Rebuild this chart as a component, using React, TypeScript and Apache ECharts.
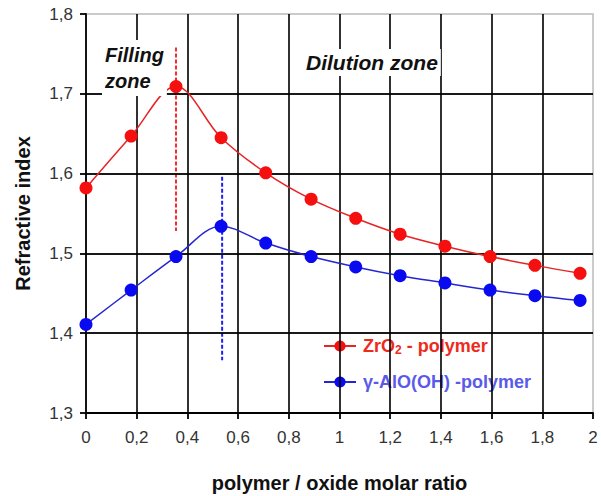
import React, { useEffect, useRef } from "react";
import * as echarts from "echarts";

const xValues = [0, 0.178, 0.355, 0.533, 0.709, 0.888, 1.064, 1.239, 1.416, 1.594, 1.771, 1.949];
const zrValues = [1.582, 1.647, 1.709, 1.645, 1.601, 1.568, 1.544, 1.524, 1.509, 1.496, 1.485, 1.475];
const alValues = [1.411, 1.454, 1.496, 1.534, 1.513, 1.496, 1.483, 1.472, 1.463, 1.454, 1.447, 1.441];
const zrPeakLine = [[0.355, 1.758], [0.355, 1.528]];
const alPeakLine = [[0.537, 1.596], [0.537, 1.366]];
const seriesNames = ["ZrO2 - polymer", "γ-AlO(OH) -polymer"];
const xGridTicks = [0.2, 0.4, 0.6, 0.8, 1.0, 1.2, 1.4, 1.6, 1.8];
const yGridTicks = [1.4, 1.5, 1.6, 1.7];

const FONT = "Liberation Sans, Arial, sans-serif";

export default function App() {
  const ref = useRef<HTMLDivElement>(null);
  useEffect(() => {
    if (!ref.current) return;
    const chart = echarts.init(ref.current, undefined, { renderer: "svg" });
    const fmt = (v: number) => String(Math.round(v * 10) / 10).replace(".", ",");
    chart.setOption({
      animation: false,
      backgroundColor: "#ffffff",
      textStyle: { fontFamily: FONT },
      grid: {
        left: 86,
        right: 8,
        top: 14,
        bottom: 83,
        containLabel: false,
        outerBoundsMode: "none",
        show: true,
        borderColor: "#bbbbbb",
        borderWidth: 1.5,
        backgroundColor: "transparent",
      },
      xAxis: {
        type: "value",
        min: 0,
        max: 2,
        interval: 0.2,
        name: "polymer / oxide molar ratio",
        nameLocation: "middle",
        nameGap: 60,
        nameTextStyle: { fontSize: 20, fontWeight: "bold", color: "#111", fontFamily: FONT },
        axisLine: { show: true, onZero: false, lineStyle: { color: "#000", width: 1.8 } },
        axisTick: { show: true, length: 6, lineStyle: { color: "#000", width: 1.8 } },
        axisLabel: { formatter: fmt, fontSize: 17, color: "#333", margin: 16, fontFamily: FONT },
        splitLine: { show: false },
      },
      yAxis: {
        type: "value",
        min: 1.3,
        max: 1.8,
        interval: 0.1,
        name: "Refractive index",
        nameLocation: "middle",
        nameGap: 53,
        nameTextStyle: { fontSize: 20, fontWeight: "bold", color: "#111", fontFamily: FONT },
        axisLine: { show: true, lineStyle: { color: "#000", width: 1.8 } },
        axisTick: { show: true, length: 6, lineStyle: { color: "#000", width: 1.8 } },
        axisLabel: { formatter: fmt, fontSize: 17, color: "#333", margin: 13, fontFamily: FONT },
        splitLine: { show: false },
      },
      legend: {
        orient: "vertical",
        left: 318,
        top: 330,
        itemWidth: 32,
        itemHeight: 14,
        itemGap: 15,
        data: [
          { name: seriesNames[0], textStyle: { color: "#ee2a1c" } },
          { name: seriesNames[1], textStyle: { color: "#5a5ae8" } },
        ],
        formatter: (n: string) => (n === seriesNames[0] ? "ZrO{sub|2} - polymer" : n),
        textStyle: {
          fontSize: 18,
          fontWeight: "bold",
          fontFamily: FONT,
          backgroundColor: "#fff",
          padding: [1, 2],
          rich: {
            sub: { fontSize: 12, fontWeight: "bold", verticalAlign: "bottom", padding: [8, 0, 0, 0], color: "#ee2a1c" },
          },
        },
      },
      series: [
        {
          name: "grid",
          type: "line",
          data: [],
          silent: true,
          z: 1,
          markLine: {
            silent: true,
            symbol: "none",
            label: { show: false },
            lineStyle: { color: "#000", width: 1.8, type: "solid", opacity: 0.9 },
            data: [
              ...xGridTicks.map((v) => ({ xAxis: v })),
              ...yGridTicks.map((v) => ({ yAxis: v })),
            ],
          },
        },
        {
          name: seriesNames[0],
          type: "line",
          smooth: 0.35,
          data: xValues.map((x, i) => [x, zrValues[i]]),
          symbol: "circle",
          symbolSize: 13,
          itemStyle: { color: "#f50f0f" },
          lineStyle: { color: "#e52525", width: 1.5 },
          z: 5,
        },
        {
          name: seriesNames[1],
          type: "line",
          smooth: 0.35,
          data: xValues.map((x, i) => [x, alValues[i]]),
          symbol: "circle",
          symbolSize: 13,
          itemStyle: { color: "#0a0af0" },
          lineStyle: { color: "#2626d0", width: 1.5 },
          z: 5,
        },
        {
          name: "zrPeak",
          type: "line",
          data: zrPeakLine,
          symbol: "none",
          lineStyle: { color: "#f03030", width: 2, type: [4, 2] },
          z: 4,
        },
        {
          name: "alPeak",
          type: "line",
          data: alPeakLine,
          symbol: "none",
          lineStyle: { color: "#2020f0", width: 2, type: [4, 2] },
          z: 4,
        },
      ],
      graphic: [
        {
          type: "text",
          left: 102,
          top: 40,
          z: 10,
          style: {
            text: "Filling\nzone",
            font: `italic bold 20px ${FONT}`,
            fill: "#111",
            lineHeight: 26,
            backgroundColor: "#fff",
            padding: [2, 3],
          },
        },
        {
          type: "text",
          left: 303,
          top: 49,
          z: 10,
          style: {
            text: "Dilution zone",
            font: `italic bold 21px ${FONT}`,
            fill: "#111",
            backgroundColor: "#fff",
            padding: [3, 3],
          },
        },
      ],
    });
    return () => chart.dispose();
  }, []);
  return <div ref={ref} style={{ width: 601, height: 496, position: "absolute", left: 0, top: 0 }} />;
}
